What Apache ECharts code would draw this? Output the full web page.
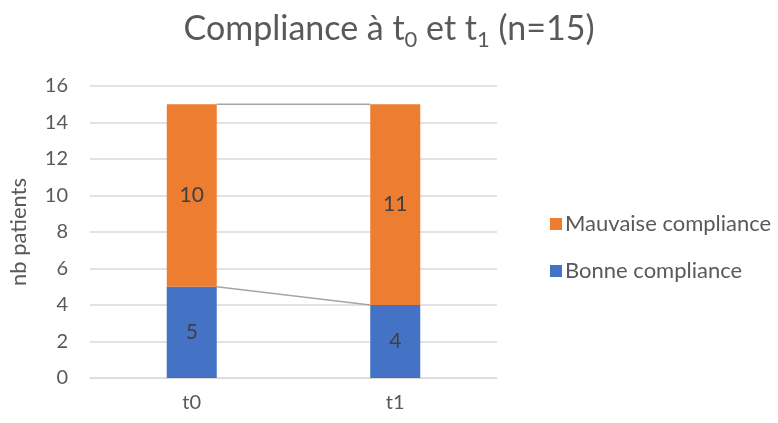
<!DOCTYPE html>
<html><head><meta charset="utf-8">
<script src="https://cdn.jsdelivr.net/npm/echarts@6/dist/echarts.min.js"></script>
<style>html,body{margin:0;padding:0;background:#fff}#c{width:778px;height:423px}</style>
</head><body><div id="c"></div>
<script>
const categories = ['t0', 't1'];
const bonne = [5, 4];
const mauvaise = [10, 11];
const yTicks = { min: 0, max: 16, interval: 2 };
const seriesNames = ['Bonne compliance', 'Mauvaise compliance'];

const FONT = 'Lato';
const chart = echarts.init(document.getElementById('c'));
const BW = 50;
const totals = bonne.map((v, i) => v + mauvaise[i]);
const connectorData = [bonne, totals];

chart.setOption({
  animation: false,
  textStyle: { fontFamily: FONT },
  title: {
    text: '{m|Compliance à t}{s|0}{m| et t}{s|1}{m| (n=15)}',
    left: 'center', top: 2,
    textStyle: {
      fontWeight: 'normal',
      rich: {
        m: { fontSize: 34, color: '#595959', fontFamily: FONT, fontWeight: 'normal', verticalAlign: 'middle', lineHeight: 44 },
        s: { fontSize: 22, color: '#595959', fontFamily: FONT, fontWeight: 'normal', verticalAlign: 'bottom', lineHeight: 44 }
      }
    }
  },
  legend: {
    orient: 'vertical', left: 545, top: 208,
    data: [seriesNames[1], seriesNames[0]],
    itemWidth: 12, itemHeight: 12, itemGap: 25, icon: 'rect',
    textStyle: { fontSize: 22, color: '#595959', fontFamily: FONT, padding: [0, 0, 0, -2] }
  },
  grid: { left: 90, right: 281, top: 86, bottom: 45, containLabel: false },
  xAxis: {
    type: 'category', data: categories,
    axisLine: { lineStyle: { color: '#d9d9d9', width: 1 } },
    axisTick: { show: false },
    axisLabel: { fontSize: 20, color: '#595959', margin: 15, fontFamily: FONT }
  },
  yAxis: {
    type: 'value', min: yTicks.min, max: yTicks.max, interval: yTicks.interval,
    name: 'nb patients', nameLocation: 'middle', nameGap: 60, nameRotate: 90,
    nameTextStyle: { fontSize: 22, color: '#595959', fontFamily: FONT },
    axisLine: { show: false }, axisTick: { show: false },
    axisLabel: { fontSize: 20, color: '#595959', margin: 22, fontFamily: FONT },
    splitLine: { lineStyle: { color: '#d9d9d9', width: 1.5 } }
  },
  series: [
    {
      name: seriesNames[0], type: 'bar', stack: 'a', data: bonne, barWidth: BW,
      itemStyle: { color: '#4472C4' },
      label: { show: true, position: 'inside', fontSize: 21, color: '#404040', fontFamily: FONT }
    },
    {
      name: seriesNames[1], type: 'bar', stack: 'a', data: mauvaise, barWidth: BW,
      itemStyle: { color: '#ED7D31' },
      label: { show: true, position: 'inside', fontSize: 21, color: '#404040', fontFamily: FONT }
    },
    {
      type: 'custom', silent: true, z: 1,
      data: connectorData.map(arr => [0, arr[0], arr[1]]),
      renderItem: function (params, api) {
        const p0 = api.coord([0, api.value(1)]);
        const p1 = api.coord([1, api.value(2)]);
        return {
          type: 'line',
          shape: { x1: p0[0] + BW / 2, y1: p0[1], x2: p1[0] - BW / 2, y2: p1[1] },
          style: { stroke: '#a6a6a6', lineWidth: 1.5 }
        };
      }
    }
  ]
});
</script></body></html>
